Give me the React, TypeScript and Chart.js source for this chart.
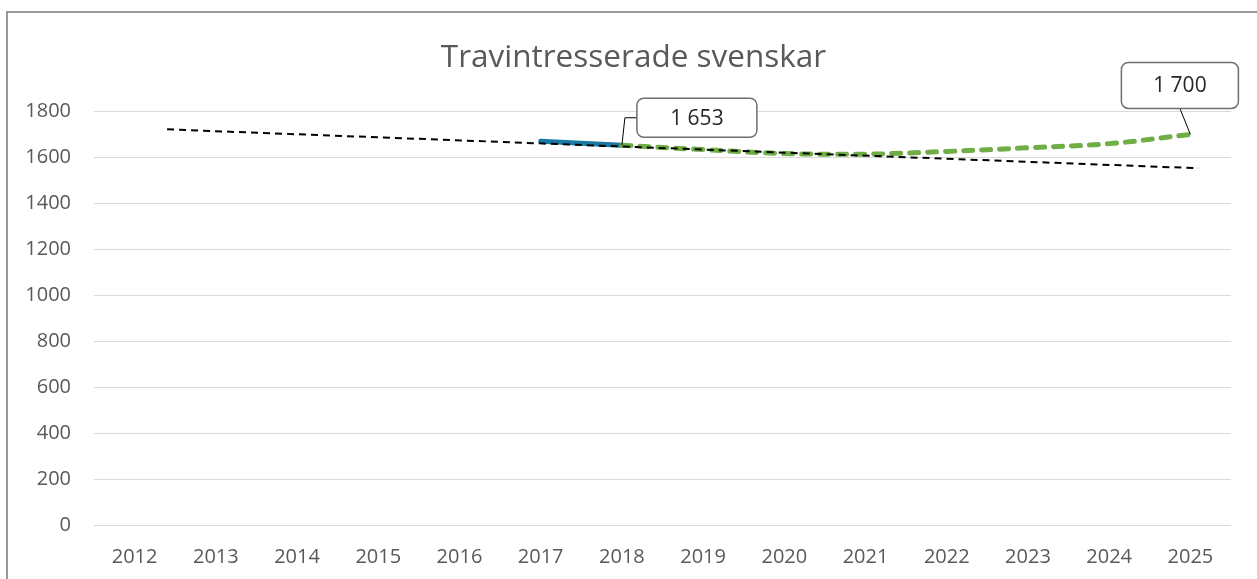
import React, { useEffect, useRef } from 'react';
import { Chart, registerables } from 'chart.js';

Chart.register(...registerables);

// ---- data ----
const years = [2012, 2013, 2014, 2015, 2016, 2017, 2018, 2019, 2020, 2021, 2022, 2023, 2024, 2025];
const actualYears = [2017, 2018];
const actualValues = [1670, 1653];
const forecastYears = [2018, 2019, 2020, 2021, 2022, 2023, 2024, 2025];
const forecastValues = [1653, 1634, 1617, 1614, 1626, 1642, 1660, 1700];
const trendYears = [2012.4, 2025.1];
const trendValues = [1722, 1553];
const calloutYears = [2018, 2025];
const calloutValues = [1653, 1700];
const calloutLabels = ['1 653', '1 700'];
const titleText = 'Travintresserade svenskar';

// ---- style ----
const FONT = "'Open Sans', 'Liberation Sans', sans-serif";
const GRID = '#d9d9d9';
const TEXT = '#595959';
// callout box geometry relative to its point
const calloutBoxes = [
  { dx: 15, dy: -47, w: 120, h: 39, leader: 'elbow' },
  { dx: -69, dy: -72, w: 117, h: 46, leader: 'bottom' },
];

const titleShiftPlugin = {
  id: 'titleShift',
  afterLayout(chart: any) {
    const t = chart.titleBlock;
    if (t) {
      t.left = 36;
      t.right = 1231;
    }
  },
};

const calloutPlugin = {
  id: 'callouts',
  afterDatasetsDraw(chart: any) {
    const { ctx, scales } = chart;
    const xs = scales.x;
    const ys = scales.y;
    ctx.save();
    calloutLabels.forEach((label, i) => {
      const px = xs.getPixelForValue(calloutYears[i]);
      const py = ys.getPixelForValue(calloutValues[i]);
      const b = calloutBoxes[i];
      const bx = px + b.dx;
      const by = py + b.dy;
      ctx.beginPath();
      ctx.strokeStyle = '#000';
      ctx.lineWidth = 1;
      if (b.leader === 'elbow') {
        const my = by + b.h / 2;
        ctx.moveTo(bx, my);
        ctx.lineTo(px + 3, my);
        ctx.lineTo(px, py);
      } else {
        ctx.moveTo(bx + b.w / 2, by + b.h);
        ctx.lineTo(px, py);
      }
      ctx.stroke();
      ctx.beginPath();
      ctx.fillStyle = '#ffffff';
      ctx.strokeStyle = '#6f6f6f';
      ctx.lineWidth = 1.5;
      (ctx as any).roundRect(bx, by, b.w, b.h, 7);
      ctx.fill();
      ctx.stroke();
      ctx.fillStyle = '#262626';
      ctx.font = `21px ${FONT}`;
      ctx.textAlign = 'center';
      ctx.textBaseline = 'middle';
      ctx.fillText(label, bx + b.w / 2, by + b.h / 2 + 1);
    });
    ctx.restore();
  },
};

export default function App() {
  const ref = useRef<HTMLCanvasElement | null>(null);

  useEffect(() => {
    if (!ref.current) return;
    const chart = new Chart(ref.current, {
      type: 'line',
      data: {
        datasets: [
          {
            label: 'Trend',
            data: trendYears.map((x, i) => ({ x, y: trendValues[i] })),
            borderColor: '#000000',
            borderWidth: 2,
            borderDash: [7, 5],
            pointRadius: 0,
            fill: false,
            order: 0,
          },
          {
            label: 'Prognos',
            data: forecastYears.map((x, i) => ({ x, y: forecastValues[i] })),
            borderColor: '#70AD47',
            borderWidth: 5,
            borderDash: [9, 9],
            borderCapStyle: 'round',
            tension: 0.35,
            pointRadius: 0,
            fill: false,
            order: 1,
          },
          {
            label: 'Utfall',
            data: actualYears.map((x, i) => ({ x, y: actualValues[i] })),
            borderColor: '#1A78A2',
            borderWidth: 5,
            borderCapStyle: 'round',
            pointRadius: 0,
            fill: false,
            order: 2,
          },
        ],
      },
      options: {
        animation: false,
        responsive: false,
        maintainAspectRatio: false,
        layout: { padding: { left: 0, right: 26, top: 0, bottom: 0 } },
        plugins: {
          legend: { display: false },
          tooltip: { enabled: false },
          title: {
            display: true,
            text: titleText,
            color: TEXT,
            font: { family: FONT, size: 31.5, weight: 'normal' },
            padding: { top: 39.2, bottom: 34.4 },
          },
        },
        scales: {
          x: {
            type: 'linear',
            min: 2011.5,
            max: 2025.5,
            afterBuildTicks: (scale: any) => {
              scale.ticks = years.map((v) => ({ value: v }));
            },
            afterFit: (scale: any) => {
              scale.height = 53.3;
            },
            grid: { display: false, drawTicks: false },
            border: { display: false },
            ticks: {
              color: TEXT,
              font: { family: FONT, size: 20 },
              padding: 20,
              autoSkip: false,
              maxRotation: 0,
              callback: (v: any) => String(v),
            },
          },
          y: {
            min: 0,
            max: 1800,
            afterFit: (scale: any) => {
              scale.width = 94;
            },
            ticks: {
              stepSize: 200,
              color: TEXT,
              font: { family: FONT, size: 20 },
              padding: 23,
              callback: (v: any) => String(v),
            },
            grid: { color: GRID, lineWidth: 1, drawTicks: false },
            border: { display: false },
          },
        },
      },
      plugins: [titleShiftPlugin, calloutPlugin],
    } as any);
    return () => chart.destroy();
  }, []);

  return (
    <div style={{ position: 'fixed', left: 0, top: 0, width: 1257, height: 579, background: '#fff', overflow: 'hidden' }}>
      <div
        style={{
          position: 'absolute',
          left: 6,
          top: 11,
          width: 1300,
          height: 620,
          borderLeft: '2px solid #9a9a9a',
          borderTop: '2px solid #9a9a9a',
          boxSizing: 'border-box',
        }}
      />
      <canvas ref={ref} width={1257} height={579} style={{ position: 'absolute', left: 0, top: 0, width: 1257, height: 579 }} />
    </div>
  );
}
